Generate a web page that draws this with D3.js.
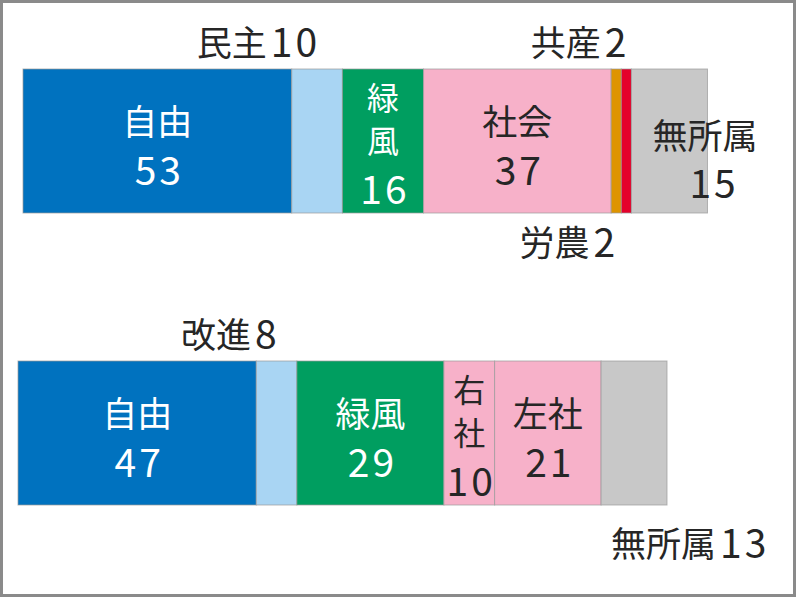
<!DOCTYPE html>
<html>
<head>
<meta charset="utf-8">
<script src="https://cdn.jsdelivr.net/npm/d3@7"></script>
<style>
  html, body { margin: 0; padding: 0; background: #fff; }
  text { font-family: "Noto Sans CJK JP", "Noto Sans", sans-serif; }
</style>
</head>
<body>
<div id="viz"></div>
<script>
// 上段・下段の議席数
const topParties = ["自由", "民主", "緑風", "社会", "労農", "共産", "無所属"];
const topSeats = [53, 10, 16, 37, 2, 2, 15];

const bottomParties = ["自由", "改進", "緑風", "右社", "左社", "無所属"];
const bottomSeats = [47, 8, 29, 10, 21, 13];

// 政党ごとの色
const partyColors = {
    "自由": "#0072bf",
    "民主": "#a9d5f3",
    "改進": "#a9d5f3",
    "緑風": "#009e60",
    "社会": "#f7b1c9",
    "右社": "#f7b1c9",
    "左社": "#f7b1c9",
    "労農": "#de9400",
    "共産": "#e4002b",
    "無所属": "#c8c8c8"
};

// ラベルの置き方 (inside / vertical / above / below / right / belowStart)
const topLabelModes = ["inside", "above", "vertical", "inside", "below", "above", "right"];
const bottomLabelModes = ["inside", "above", "inside", "vertical", "inside", "belowStart"];

const width = 800;
const height = 600;

const svg = d3.select("#viz")
    .append("svg")
    .attr("width", width)
    .attr("height", height);

// 枠
svg.append("rect")
    .attr("x", 1.5)
    .attr("y", 1.5)
    .attr("width", 793)
    .attr("height", 594)
    .attr("fill", "#fff")
    .attr("stroke", "#8a8a8a")
    .attr("stroke-width", 3);

const x = d3.scaleLinear()
    .domain([0, d3.sum(bottomSeats)])
    .range([0, 649]);

const barHeight = 144;
const kanjiSize = 35;
const digitSize = 39;

// 漢字と数字を別サイズで書く
function addLabel(g, name, num, px, py, anchor, color, kSize) {
    const t = g.append("text")
        .attr("x", px)
        .attr("y", py)
        .attr("text-anchor", anchor)
        .attr("dominant-baseline", "central")
        .attr("fill", color);
    if (name) {
        t.append("tspan")
            .attr("font-size", kSize || kanjiSize)
            .text(name);
    }
    if (num !== null) {
        t.append("tspan")
            .attr("font-size", digitSize)
            .attr("letter-spacing", 3)
            .attr("dx", name ? 4 : 0)
            .text(String(num));
    }
}

function drawBar(parties, seats, modes, left, top) {
    const ends = d3.cumsum(seats);
    const rows = parties.map((p, i) => ({
        party: p,
        seats: seats[i],
        mode: modes[i],
        x0: left + x(ends[i] - seats[i]),
        x1: left + x(ends[i])
    }));

    const g = svg.append("g");

    g.selectAll("rect")
        .data(rows)
        .enter()
        .append("rect")
        .attr("x", d => d.x0)
        .attr("y", top)
        .attr("width", d => d.x1 - d.x0)
        .attr("height", barHeight)
        .attr("fill", d => partyColors[d.party])
        .attr("stroke", "#9a9a9a")
        .attr("stroke-opacity", 0.7)
        .attr("stroke-width", 1);

    const mid = top + barHeight / 2;
    const dark = "#262626";

    rows.forEach(d => {
        const cx = (d.x0 + d.x1) / 2;
        const ink = (d.party === "自由" || d.party === "緑風") ? "#fff" : dark;
        if (d.mode === "inside") {
            addLabel(g, d.party, null, cx, mid - 22, "middle", ink);
            addLabel(g, null, d.seats, cx + 2, mid + 27, "middle", ink);
        } else if (d.mode === "vertical") {
            Array.from(d.party).forEach((ch, k) => {
                addLabel(g, ch, null, cx, mid - 45 + k * 43, "middle", ink, 32);
            });
            addLabel(g, null, d.seats, cx + 2, mid + 46, "middle", ink);
        } else if (d.mode === "above") {
            addLabel(g, d.party, d.seats, cx + 3, top - 29, "end", dark);
        } else if (d.mode === "below") {
            addLabel(g, d.party, d.seats, cx + 2, top + barHeight + 27, "end", dark);
        } else if (d.mode === "belowStart") {
            addLabel(g, d.party, d.seats, d.x0 + 10, top + barHeight + 36, "start", dark);
        } else if (d.mode === "right") {
            addLabel(g, d.party, null, d.x0 + 21, mid - 8, "start", dark);
            addLabel(g, null, d.seats, d.x0 + 58, mid + 40, "start", dark);
        }
    });
}

drawBar(topParties, topSeats, topLabelModes, 23, 69);
drawBar(bottomParties, bottomSeats, bottomLabelModes, 18, 361);
</script>
</body>
</html>
